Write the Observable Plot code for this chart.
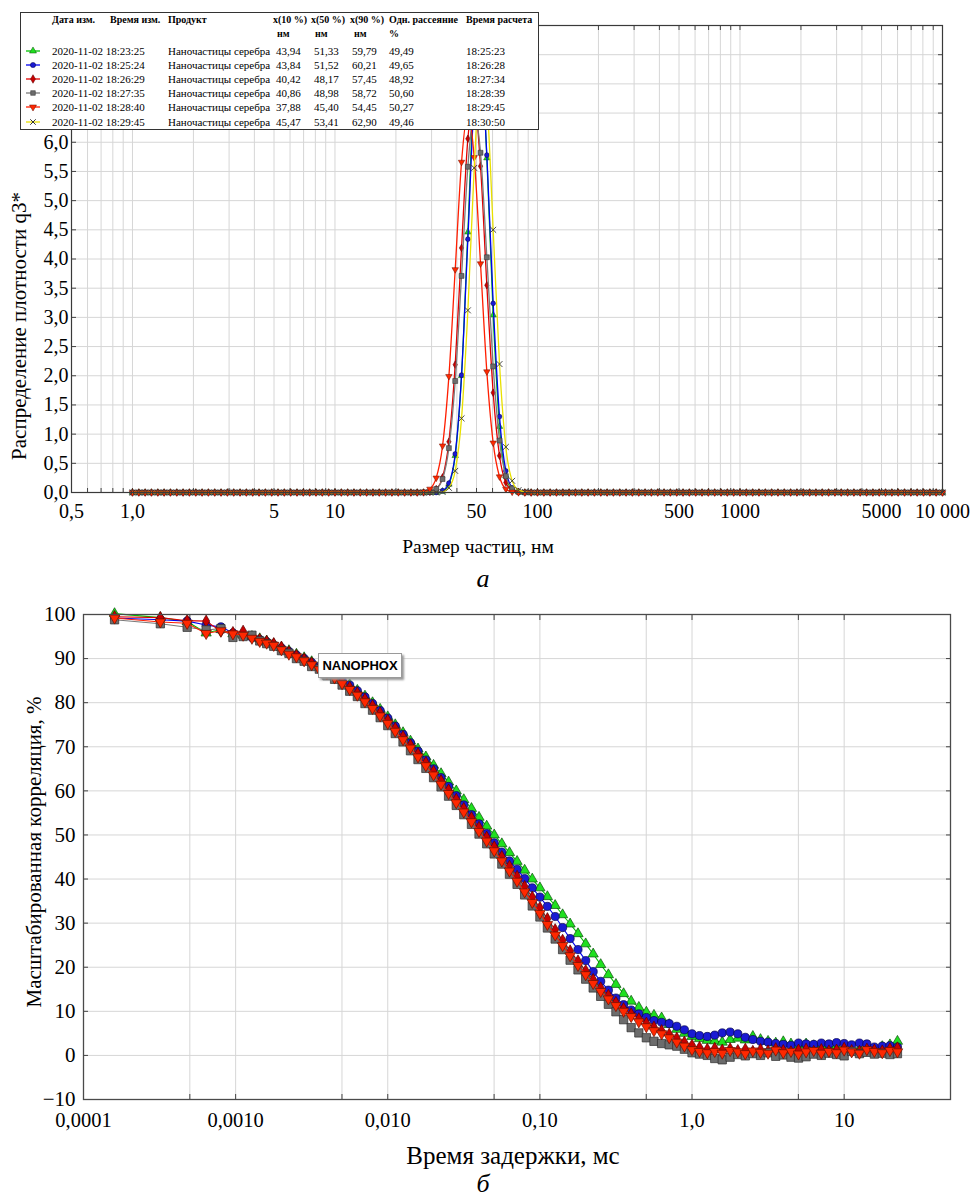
<!DOCTYPE html>
<html><head><meta charset="utf-8">
<script src="https://cdn.jsdelivr.net/npm/d3@7"></script>
<script src="https://cdn.jsdelivr.net/npm/@observablehq/plot@0.6"></script>
<style>
body{margin:0;background:#fff;}
#root{position:relative;width:970px;height:1199px;overflow:hidden;font-family:"Liberation Serif","Times New Roman",serif;color:#000;background:#fff;}
#root svg{position:absolute;left:0;}
.lbl{position:absolute;white-space:nowrap;line-height:1;transform:translate(-50%,-50%);}
.cell{position:absolute;white-space:nowrap;line-height:1;transform:translateY(-50%);font-size:11px;}
.hd{font-weight:bold;font-size:10px;}
</style></head><body><div id="root"></div>
<script>
// ---------- TOP CHART DATA (particle size distribution q3*) ----------
const sizes = [
 1,1.075,1.155,1.241,1.334,1.433,1.540,1.655,1.778,1.911,2.054,2.207,2.371,2.548,2.738,2.943,
 3.162,3.398,3.652,3.924,4.217,4.532,4.870,5.233,5.623,6.043,6.494,6.978,7.499,8.058,8.660,9.306,
 10,10.75,11.55,12.41,13.34,14.33,15.40,16.55,17.78,19.11,20.54,22.07,23.71,25.48,27.38,29.43,
 31.62,33.98,36.52,39.24,42.17,45.32,48.70,52.33,56.23,60.43,64.94,69.78,74.99,80.58,86.60,93.06,
 100,107.5,115.5,124.1,133.4,143.3,154.0,165.5,177.8,191.1,205.4,220.7,237.1,254.8,273.8,294.3,
 316.2,339.8,365.2,392.4,421.7,453.2,487.0,523.3,562.3,604.3,649.4,697.8,749.9,805.8,866.0,930.6,
 1000,1075,1155,1241,1334,1433,1540,1655,1778,1911,2054,2207,2371,2548,2738,2943,
 3162,3398,3652,3924,4217,4532,4870,5233,5623,6043,6494,6978,7499,8058,8660,9306,
 10000];
const q3Green = [
 0,0,0,0,0,0,0,0,0,0,0,0,0,0,0,0, 0,0,0,0,0,0,0,0,0,0,0,0,0,0,0,0,
 0,0,0,0,0,0,0,0,0,0,0,0,0,0,0,0,
 0,0.02,0.14,0.63,2.00,4.46,6.94,7.54,5.73,3.04,1.13,0.29,0.05,0.01,0,0,
 0,0,0,0,0,0,0,0,0,0,0,0,0,0,0,0, 0,0,0,0,0,0,0,0,0,0,0,0,0,0,0,0,
 0,0,0,0,0,0,0,0,0,0,0,0,0,0,0,0, 0,0,0,0,0,0,0,0,0,0,0,0,0,0,0,0, 0];
const q3Blue = [
 0,0,0,0,0,0,0,0,0,0,0,0,0,0,0,0, 0,0,0,0,0,0,0,0,0,0,0,0,0,0,0,0,
 0,0,0,0,0,0,0,0,0,0,0,0,0,0,0,0,
 0,0.03,0.16,0.66,2.01,4.34,6.69,7.36,5.78,3.24,1.30,0.37,0.08,0.01,0,0,
 0,0,0,0,0,0,0,0,0,0,0,0,0,0,0,0, 0,0,0,0,0,0,0,0,0,0,0,0,0,0,0,0,
 0,0,0,0,0,0,0,0,0,0,0,0,0,0,0,0, 0,0,0,0,0,0,0,0,0,0,0,0,0,0,0,0, 0];
const q3RedDiamond = [
 0,0,0,0,0,0,0,0,0,0,0,0,0,0,0,0, 0,0,0,0,0,0,0,0,0,0,0,0,0,0,0,0,
 0,0,0,0,0,0,0,0,0,0,0,0,0,0,0,0.01,
 0.06,0.26,0.87,2.19,4.19,6.06,6.68,5.59,3.55,1.71,0.63,0.17,0.04,0.01,0,0,
 0,0,0,0,0,0,0,0,0,0,0,0,0,0,0,0, 0,0,0,0,0,0,0,0,0,0,0,0,0,0,0,0,
 0,0,0,0,0,0,0,0,0,0,0,0,0,0,0,0, 0,0,0,0,0,0,0,0,0,0,0,0,0,0,0,0, 0];
const q3Gray = [
 0,0,0,0,0,0,0,0,0,0,0,0,0,0,0,0, 0,0,0,0,0,0,0,0,0,0,0,0,0,0,0,0,
 0,0,0,0,0,0,0,0,0,0,0,0,0,0,0,0.01,
 0.06,0.23,0.76,1.91,3.71,5.58,6.48,5.82,4.03,2.16,0.89,0.28,0.07,0.01,0,0,
 0,0,0,0,0,0,0,0,0,0,0,0,0,0,0,0, 0,0,0,0,0,0,0,0,0,0,0,0,0,0,0,0,
 0,0,0,0,0,0,0,0,0,0,0,0,0,0,0,0, 0,0,0,0,0,0,0,0,0,0,0,0,0,0,0,0, 0];
const q3RedDown = [
 0,0,0,0,0,0,0,0,0,0,0,0,0,0,0,0, 0,0,0,0,0,0,0,0,0,0,0,0,0,0,0,0,
 0,0,0,0,0,0,0,0,0,0,0,0,0,0,0.01,0.06,
 0.25,0.80,1.99,3.82,5.66,6.49,5.74,3.92,2.07,0.85,0.27,0.06,0.01,0,0,0,
 0,0,0,0,0,0,0,0,0,0,0,0,0,0,0,0, 0,0,0,0,0,0,0,0,0,0,0,0,0,0,0,0,
 0,0,0,0,0,0,0,0,0,0,0,0,0,0,0,0, 0,0,0,0,0,0,0,0,0,0,0,0,0,0,0,0, 0];
const q3Yellow = [
 0,0,0,0,0,0,0,0,0,0,0,0,0,0,0,0, 0,0,0,0,0,0,0,0,0,0,0,0,0,0,0,0,
 0,0,0,0,0,0,0,0,0,0,0,0,0,0,0,0,
 0,0.01,0.08,0.37,1.27,3.12,5.56,7.16,6.67,4.50,2.20,0.78,0.20,0.04,0.01,0,
 0,0,0,0,0,0,0,0,0,0,0,0,0,0,0,0, 0,0,0,0,0,0,0,0,0,0,0,0,0,0,0,0,
 0,0,0,0,0,0,0,0,0,0,0,0,0,0,0,0, 0,0,0,0,0,0,0,0,0,0,0,0,0,0,0,0, 0];

const topXTicks = [0.5, 1, 5, 10, 50, 100, 500, 1000, 5000, 10000];
const topXTickLabels = ["0,5","1,0","5","10","50","100","500","1000","5000","10 000"];
const topYGrid = [0,0.5,1,1.5,2,2.5,3,3.5,4,4.5,5,5.5,6,6.5,7,7.5,8];
const topYTicks = [0,0.5,1,1.5,2,2.5,3,3.5,4,4.5,5,5.5,6];
const topYTickLabels = ["0,0","0,5","1,0","1,5","2,0","2,5","3,0","3,5","4,0","4,5","5,0","5,5","6,0"];

// legend table
const measDates = ["2020-11-02 18:23:25","2020-11-02 18:25:24","2020-11-02 18:26:29","2020-11-02 18:27:35","2020-11-02 18:28:40","2020-11-02 18:29:45"];
const products = ["Наночастицы серебра","Наночастицы серебра","Наночастицы серебра","Наночастицы серебра","Наночастицы серебра","Наночастицы серебра"];
const x10 = ["43,94","43,84","40,42","40,86","37,88","45,47"];
const x50 = ["51,33","51,52","48,17","48,98","45,40","53,41"];
const x90 = ["59,79","60,21","57,45","58,72","54,45","62,90"];
const spread = ["49,49","49,65","48,92","50,60","50,27","49,46"];
const calcTimes = ["18:25:23","18:26:28","18:27:34","18:28:39","18:29:45","18:30:50"];

// ---------- BOTTOM CHART DATA (scaled correlation) ----------
const tau = [0.00016,0.00032,0.00048,0.00064,0.0008,0.00096,0.00112,0.00128,0.00144,0.0016,
 0.00178,0.00200,0.00224,0.00251,0.00282,0.00316,0.00355,0.00398,0.00447,0.00501,
 0.00562,0.00631,0.00708,0.00794,0.00891,0.0100,0.0112,0.0126,0.0141,0.0158,
 0.0178,0.0200,0.0224,0.0251,0.0282,0.0316,0.0355,0.0398,0.0447,0.0501,
 0.0562,0.0631,0.0708,0.0794,0.0891,0.100,0.112,0.126,0.141,0.158,
 0.178,0.200,0.224,0.251,0.282,0.316,0.355,0.398,0.447,0.501,
 0.562,0.631,0.708,0.794,0.891,1.00,1.12,1.26,1.41,1.58,
 1.78,2.00,2.24,2.51,2.82,3.16,3.55,3.98,4.47,5.01,
 5.62,6.31,7.08,7.94,8.91,10.0,11.2,12.6,14.1,15.8,
 17.8,20.0,22.4];
const corrGreen = [100.2,99.3,98.4,95.8,96.6,95.6,95.3,95.0,94.5,94.0,
 93.3,92.5,91.8,91.0,90.2,89.3,88.4,87.4,86.4,85.3,
 84.1,82.8,81.5,80.0,78.5,76.8,75.0,73.2,71.3,69.5,
 67.7,65.8,63.9,62.0,60.0,58.0,56.0,54.0,52.0,50.0,
 48.0,46.0,44.0,42.0,40.0,38.0,36.0,34.0,31.9,29.8,
 27.6,25.3,23.0,20.6,18.3,16.1,14.0,12.3,10.9,9.8,
 9.1,8.5,7.0,5.9,5.0,4.3,3.8,3.4,3.3,3.0,
 3.6,3.9,3.5,4.3,3.6,3.2,2.8,3.1,2.6,2.4,
 2.6,2.2,2.0,1.8,2.1,1.6,1.2,1.5,1.9,1.4,
 2.0,2.4,3.2];
const corrBlue = [99.2,98.8,98.5,97.6,97.2,95.8,95.2,94.8,94.3,93.8,
 93.0,92.4,91.6,90.8,90.0,89.1,88.2,87.2,86.2,85.1,
 84.0,82.7,81.3,79.8,78.2,76.5,74.7,72.8,70.9,69.0,
 67.0,65.0,63.0,61.0,58.9,56.8,54.6,52.5,50.3,48.2,
 46.1,44.1,42.2,40.1,38.0,35.9,33.8,31.5,29.0,26.5,
 24.0,21.5,19.0,16.8,14.8,13.0,11.5,10.3,9.4,8.6,
 7.9,7.5,7.2,6.6,5.8,4.9,4.5,4.3,4.6,5.1,
 5.3,4.9,4.1,3.6,3.2,3.0,2.7,2.5,2.3,2.8,
 2.6,2.5,2.8,2.6,2.9,2.7,2.4,2.8,2.6,1.9,
 2.1,2.2,1.9];
const corrRedDiamond = [99.5,99.3,98.6,98.5,96.2,95.9,96.2,94.9,94.3,93.9,
 93.4,92.6,91.5,90.7,89.9,89.0,88.0,87.0,86.0,84.8,
 83.5,82.2,80.8,79.3,77.7,76.0,74.2,72.3,70.4,68.4,
 66.4,64.4,62.3,60.2,58.1,56.0,53.9,51.7,49.5,47.3,
 45.1,42.9,40.6,38.3,35.9,33.5,31.0,28.5,26.1,23.7,
 21.4,19.2,17.2,15.3,13.6,12.0,10.6,9.4,8.3,7.3,
 6.4,5.6,4.8,3.9,3.0,2.3,1.8,1.4,1.6,1.2,
 1.5,1.1,1.4,0.9,1.3,1.0,1.5,1.1,0.8,1.2,
 1.4,0.9,1.3,1.0,1.2,1.6,1.1,0.9,1.4,1.2,
 1.0,1.5,1.7];
const corrGray = [98.8,97.9,97.1,96.5,96.8,94.8,95.0,95.3,94.0,93.4,
 92.8,91.8,91.2,90.0,89.4,88.2,87.6,86.1,85.3,84.0,
 82.6,81.4,79.8,78.3,76.6,74.8,73.0,71.1,69.1,67.1,
 65.1,63.0,60.9,58.8,56.7,54.6,52.4,50.2,48.0,45.7,
 43.4,41.1,38.8,36.4,33.9,31.4,28.9,26.4,24.0,21.6,
 19.4,17.3,15.3,13.4,11.6,9.9,8.1,6.3,5.1,4.0,
 3.2,2.7,2.4,2.1,1.4,0.6,0.3,0.0,-0.7,-1.0,
 -0.4,0.2,-0.1,0.4,0.0,0.6,-0.2,0.1,-0.4,-0.6,
 -0.3,0.3,0.0,0.5,0.2,-0.1,0.9,0.4,0.7,0.3,
 0.5,0.2,0.4];
const corrRedDown = [99.2,98.3,98.0,95.7,96.3,95.6,95.3,94.6,93.9,93.5,
 93.0,92.0,91.0,90.4,89.5,88.6,87.5,86.6,85.6,84.3,
 83.0,81.7,80.2,78.7,77.0,75.3,73.5,71.6,69.7,67.7,
 65.7,63.6,61.5,59.4,57.3,55.2,53.0,50.8,48.6,46.4,
 44.1,41.8,39.5,37.1,34.7,32.2,29.7,27.3,24.9,22.6,
 20.4,18.3,16.3,14.5,12.8,11.3,10.0,8.8,7.6,6.5,
 5.6,4.9,4.0,3.0,2.1,1.3,0.9,0.6,0.9,0.5,
 1.1,0.8,0.4,1.0,0.7,0.5,1.2,0.6,0.9,0.3,
 0.8,1.1,0.5,0.9,0.6,1.2,0.8,0.5,1.3,0.9,
 0.6,1.1,0.8];

const botXTicks = [0.0001, 0.001, 0.01, 0.1, 1, 10];
const botXTickLabels = ["0,0001","0,0010","0,010","0,10","1,0","10"];
const botXGrid = [0.0001,0.0005,0.001,0.005,0.01,0.05,0.1,0.5,1,5,10,50];
const botYTicks = [-10,0,10,20,30,40,50,60,70,80,90,100];
const botYTickLabels = ["\u221210","0","10","20","30","40","50","60","70","80","90","100"];

// ---------- STYLES ----------
const triangleDown = {draw(ctx, size){
  const y = -Math.sqrt(size / (Math.sqrt(3) * 3));
  ctx.moveTo(0, -y * 2); ctx.lineTo(-Math.sqrt(3) * y, y); ctx.lineTo(Math.sqrt(3) * y, y); ctx.closePath();
}};
const styles = [
  {symbol:"triangle", fill:"#1fe01f", stroke:"#0b4f0b", line:"#00c400", rTop:2.4, rBot:3.8},
  {symbol:"circle",   fill:"#1a1ad2", stroke:"#05054a", line:"#0000f0", rTop:2.4, rBot:4.1},
  {symbol:"diamond",  fill:"#c80000", stroke:"#5a0000", line:"#e00000", rTop:2.3, rBot:3.7},
  {symbol:"square",   fill:"#6c6c6c", stroke:"#2c2c2c", line:"#7a7a7a", rTop:2.8, rBot:4.7},
  {symbol:triangleDown, fill:"#ff2800", stroke:"#6a1000", line:"#ff1e00", rTop:2.4, rBot:3.9},
  {symbol:"times",    fill:"none",    stroke:"#333",    line:"#e8e000", rTop:2.8, rBot:3.6}
];

const root = document.getElementById("root");
const FONT = "Liberation Serif";
const fmtFrom = (vals, labels) => { const m = new Map(vals.map((v,i)=>[v, labels[i]])); return d => m.get(d); };

// ---------- TOP CHART ----------
const topSeries = [q3Green, q3Blue, q3RedDiamond, q3Gray, q3RedDown, q3Yellow];
const xDomTop = [0.5, 10000];
const xMinorTop = d3.scaleLog().domain(xDomTop).ticks();
const gridCol = "#d6d6d6";
const noLab = {label: null};
const topMarks = [
  Plot.gridX(xMinorTop, {stroke: gridCol, strokeOpacity: 1}),
  Plot.gridY(topYGrid, {stroke: gridCol, strokeOpacity: 1}),
  Plot.axisX(xMinorTop, {anchor:"bottom", tickSize:-4, tickPadding:0, tickFormat:()=>"", stroke:"#444", ...noLab}),
  Plot.axisX(xMinorTop, {anchor:"top", tickSize:-4, tickPadding:0, tickFormat:()=>"", stroke:"#444", ...noLab}),
  Plot.axisY(topYGrid, {anchor:"left", tickSize:-5, tickPadding:0, tickFormat:()=>"", stroke:"#444", ...noLab}),
  Plot.axisY(topYGrid, {anchor:"right", tickSize:-5, tickPadding:0, tickFormat:()=>"", stroke:"#444", ...noLab}),
  Plot.text(topXTicks, {x: d => d, text: fmtFrom(topXTicks, topXTickLabels), frameAnchor:"bottom", lineAnchor:"top", dy: 11, fontSize: 20, fontFamily: FONT, fill:"#000"}),
  Plot.text(topYTicks, {y: d => d, text: fmtFrom(topYTicks, topYTickLabels), frameAnchor:"left", textAnchor:"end", dx: -3, fontSize: 20, fontFamily: FONT, fill:"#000"}),
];
topSeries.forEach((arr, k) => {
  const st = styles[k];
  const rows = sizes.map((s, i) => ({x: s, y: arr[i]}));
  topMarks.push(Plot.line(rows, {x:"x", y:"y", stroke: st.line, strokeWidth: 1.3, curve: "monotone-x"}));
  topMarks.push(Plot.dot(rows, {x:"x", y:"y", symbol: st.symbol, r: st.rTop, fill: st.fill, stroke: st.stroke, strokeWidth: k === 5 ? 0.9 : 0.5}));
});
topMarks.push(Plot.frame({stroke:"#3a3a3a", strokeWidth:1.2}));

const topPlot = Plot.plot({
  width: 970, height: 540,
  marginLeft: 71, marginRight: 28, marginTop: 25, marginBottom: 48,
  style: {fontFamily: FONT, color: "#000", background: "transparent", overflow: "visible"},
  x: {type: "log", domain: xDomTop, label: null},
  y: {domain: [0, 8], label: null},
  marks: topMarks
});
topPlot.style.top = "0px";
root.appendChild(topPlot);

// ---------- LEGEND TABLE ----------
function addEl(tag, cls, text, css){ const e = document.createElement(tag); if (cls) e.className = cls; if (text != null) e.textContent = text; Object.assign(e.style, css); root.appendChild(e); return e; }
addEl("div", null, null, {position:"absolute", left:"20px", top:"12px", width:"517px", height:"116px", border:"1px solid #333", background:"#fff"});
const hdrY = 20, unitY = 34, rowY = [51, 65, 79, 93, 107, 122];
const colX = {date:52, time:110, prod:168, x10:273, x50:311, x90:350, spread:389, calc:466};
const headers = [["Дата изм.", colX.date], ["Время изм.", colX.time], ["Продукт", colX.prod], ["x(10 %)", colX.x10], ["x(50 %)", colX.x50], ["x(90 %)", colX.x90], ["Одн. рассеяние", colX.spread], ["Время расчета", colX.calc]];
headers.forEach(([t, x]) => addEl("div", "cell hd", t, {left: x + "px", top: hdrY + "px"}));
[["нм", colX.x10 + 4], ["нм", colX.x50 + 4], ["нм", colX.x90 + 4], ["%", colX.spread]].forEach(([t, x]) => addEl("div", "cell hd", t, {left: x + "px", top: unitY + "px"}));
measDates.forEach((d, i) => {
  const y = rowY[i] + "px";
  addEl("div", "cell", d, {left: colX.date + "px", top: y});
  addEl("div", "cell", products[i], {left: colX.prod + "px", top: y});
  addEl("div", "cell", x10[i], {left: (colX.x10 + 3) + "px", top: y});
  addEl("div", "cell", x50[i], {left: (colX.x50 + 3) + "px", top: y});
  addEl("div", "cell", x90[i], {left: (colX.x90 + 2) + "px", top: y});
  addEl("div", "cell", spread[i], {left: colX.spread + "px", top: y});
  addEl("div", "cell", calcTimes[i], {left: colX.calc + "px", top: y});
  const st = styles[i];
  const svg = d3.create("svg").attr("width", 16).attr("height", 10)
    .style("position", "absolute").style("left", "25px").style("top", (rowY[i] - 5) + "px");
  svg.append("line").attr("x1", 1).attr("x2", 15).attr("y1", 5).attr("y2", 5).attr("stroke", st.line).attr("stroke-width", 1.3);
  const sym = {triangle: d3.symbolTriangle, circle: d3.symbolCircle, diamond: d3.symbolDiamond, square: d3.symbolSquare, times: d3.symbolTimes}[st.symbol] || st.symbol;
  svg.append("path").attr("transform", "translate(8,5)").attr("d", d3.symbol(sym, Math.PI * 2.6 * 2.6)())
    .attr("fill", st.fill).attr("stroke", st.stroke).attr("stroke-width", i === 5 ? 1 : 0.5);
  root.appendChild(svg.node());
});

// ---------- TOP LABELS ----------
addEl("div", "lbl", "Распределение плотности q3*", {left:"19px", top:"326px", fontSize:"21px", transform:"translate(-50%,-50%) rotate(-90deg)"});
addEl("div", "lbl", "Размер частиц, нм", {left:"478px", top:"547px", fontSize:"19.5px"});
addEl("div", "lbl", "а", {left:"483px", top:"579px", fontSize:"26px", fontStyle:"italic"});

// ---------- BOTTOM CHART ----------
const botSeries = [corrGreen, corrBlue, corrRedDiamond, corrGray, corrRedDown];
const botMarks = [
  Plot.gridX(botXGrid, {stroke: gridCol, strokeOpacity: 1}),
  Plot.gridY(botYTicks, {stroke: gridCol, strokeOpacity: 1}),
  Plot.axisX(botXGrid, {anchor:"bottom", tickSize:-5, tickPadding:0, tickFormat:()=>"", stroke:"#444", ...noLab}),
  Plot.axisX(botXGrid, {anchor:"top", tickSize:-5, tickPadding:0, tickFormat:()=>"", stroke:"#444", ...noLab}),
  Plot.axisY(botYTicks, {anchor:"left", tickSize:-5, tickPadding:0, tickFormat:()=>"", stroke:"#444", ...noLab}),
  Plot.axisY(botYTicks, {anchor:"right", tickSize:-5, tickPadding:0, tickFormat:()=>"", stroke:"#444", ...noLab}),
  Plot.text(botXTicks, {x: d => d, text: fmtFrom(botXTicks, botXTickLabels), frameAnchor:"bottom", lineAnchor:"top", dy: 13, fontSize: 20.5, fontFamily: FONT, fill:"#000"}),
  Plot.text(botYTicks, {y: d => d, text: fmtFrom(botYTicks, botYTickLabels), frameAnchor:"left", textAnchor:"end", dx: -8, fontSize: 21, fontFamily: FONT, fill:"#000"}),
];
botSeries.forEach((arr, k) => {
  const st = styles[k];
  const rows = tau.map((t, i) => ({x: t, y: arr[i]}));
  botMarks.push(Plot.line(rows, {x:"x", y:"y", stroke: st.line, strokeWidth: 1.1}));
  botMarks.push(Plot.dot(rows, {x:"x", y:"y", symbol: st.symbol, r: st.rBot, fill: st.fill, stroke: st.stroke, strokeWidth: 0.7}));
});
botMarks.push(Plot.frame({stroke:"#4a4a4a", strokeWidth:1.3}));

const botPlot = Plot.plot({
  width: 970, height: 560,
  marginLeft: 83, marginRight: 20, marginTop: 34, marginBottom: 41,
  style: {fontFamily: FONT, color: "#000", background: "transparent", overflow: "visible"},
  x: {type: "log", domain: [0.0001, 50], label: null},
  y: {domain: [-10, 100], label: null},
  marks: botMarks
});
botPlot.style.top = "580px";
root.appendChild(botPlot);

// NANOPHOX annotation box
addEl("div", null, "NANOPHOX", {position:"absolute", left:"318px", top:"653px", width:"84px", height:"25px", boxSizing:"border-box",
  border:"1px solid #9a9a9a", background:"#fff", boxShadow:"2px 2px 2px #9a9a9a", fontFamily:"'Liberation Sans', Arial, sans-serif",
  fontWeight:"bold", fontSize:"13px", lineHeight:"23px", textAlign:"center"});

// ---------- BOTTOM LABELS ----------
addEl("div", "lbl", "Масштабированная корреляция, %", {left:"34px", top:"852px", fontSize:"21px", transform:"translate(-50%,-50%) rotate(-90deg)"});
addEl("div", "lbl", "Время задержки, мс", {left:"513px", top:"1155px", fontSize:"25px"});
addEl("div", "lbl", "б", {left:"483px", top:"1184px", fontSize:"26px", fontStyle:"italic"});
</script></body></html>
